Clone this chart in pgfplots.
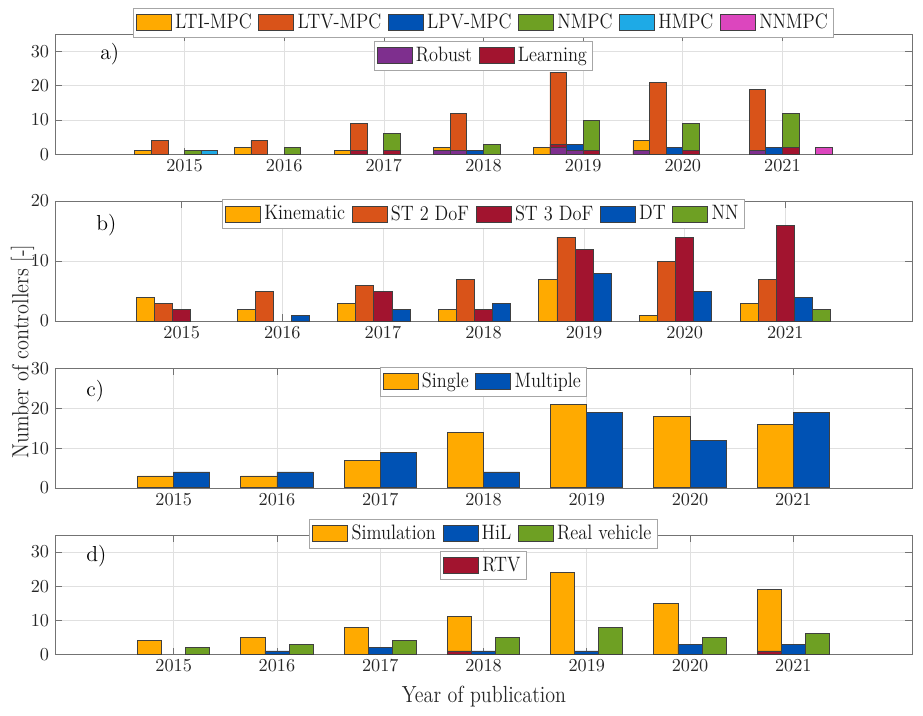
\documentclass[border=0pt]{standalone}
\usepackage{pgfplots}
\pgfplotsset{compat=1.18}
\definecolor{cYel}{RGB}{255,170,0}
\definecolor{cOra}{RGB}{217,83,25}
\definecolor{cBlu}{RGB}{0,82,180}
\definecolor{cGre}{RGB}{110,160,35}
\definecolor{cCya}{RGB}{30,170,230}
\definecolor{cMag}{RGB}{220,70,190}
\definecolor{cPur}{RGB}{126,47,142}
\definecolor{cRed}{RGB}{162,20,47}
\newcommand{\lgt}[1]{\scalebox{0.88}[1]{#1}}
\pgfplotsset{
  panel/.style={
    scale only axis, width=514.2pt, anchor=north west,
    axis line style={black!55}, tick style={black!55, line width=0.4pt},
    major tick length=4pt, tick align=inside,
    xmajorgrids, ymajorgrids, grid style={black!12, line width=0.4pt},
    xtick={2015,2016,2017,2018,2019,2020,2021},
    ymin=0,
    ticklabel style={font=\fontsize{11.2}{12}\selectfont, text=black!85},
    x tick label style={/pgf/number format/1000 sep={}},
    legend style={font=\fontsize{12.5}{14}\selectfont, draw=black!35, line width=0.6pt, fill=white,
      inner sep=1.5pt, /tikz/every even column/.append style={column sep=2pt}, text=black!90},
    legend image code/.code={\draw[##1, line width=0.5pt] (0pt,-4.8pt) rectangle (21pt,4.8pt);},
    legend cell align=left,
  },
  overlay/.style={panel, hide axis, xmajorgrids=false, ymajorgrids=false},
  hb/.style 2 args={ybar, bar width=#1, bar shift=#2, draw=black!75, line width=0.5pt},
}
\begin{document}
\begin{tikzpicture}
\path[use as bounding box] (0,0) rectangle (553.8pt,-429pt);

% ---------- a) ----------
\begin{axis}[panel, at={(33pt,-20.58pt)}, height=72pt, xmin=2013.7, xmax=2022.3, ymax=35, ytick={0,10,20,30},
  legend columns=6, legend style={at={(0.5,1)}, anchor=south, yshift=-2pt}]
\addplot[hb={0.16667}{-0.41667}, fill=cYel] coordinates {(2015,1)(2016,2)(2017,1)(2018,2)(2019,2)(2020,4)};
\addlegendentry{\lgt{LTI-MPC}}
\addplot[hb={0.16667}{-0.25}, fill=cOra] coordinates {(2015,4)(2016,4)(2017,9)(2018,12)(2019,24)(2020,21)(2021,19)};
\addlegendentry{\lgt{LTV-MPC}}
\addplot[hb={0.16667}{-0.08333}, fill=cBlu] coordinates {(2018,1)(2019,3)(2020,2)(2021,2)};
\addlegendentry{\lgt{LPV-MPC}}
\addplot[hb={0.16667}{0.08333}, fill=cGre] coordinates {(2015,1)(2016,2)(2017,6)(2018,3)(2019,10)(2020,9)(2021,12)};
\addlegendentry{\lgt{NMPC}}
\addplot[hb={0.16667}{0.25}, fill=cCya] coordinates {(2015,1)};
\addlegendentry{\lgt{HMPC}}
\addplot[hb={0.16667}{0.41667}, fill=cMag] coordinates {(2021,2)};
\addlegendentry{\lgt{NNMPC}}
\node[anchor=west, inner sep=0pt, font=\fontsize{13}{14}\selectfont] at (rel axis cs:0.0525,0.833) {a)};
\end{axis}
\begin{axis}[overlay, at={(33pt,-20.58pt)}, height=72pt, xmin=2013.7, xmax=2022.3, ymax=35,
  legend columns=2, legend style={at={(0.5,1)}, anchor=north, yshift=-4pt}]
\addlegendimage{fill=cPur, draw=black!75}\addlegendentry{\lgt{Robust}}
\addlegendimage{fill=cRed, draw=black!75}\addlegendentry{\lgt{Learning}}
\addplot[hb={0.16667}{-0.25}, fill=cRed, forget plot] coordinates {(2017,1)(2019,3)};
\addplot[hb={0.16667}{0.08333}, fill=cRed, forget plot] coordinates {(2017,1)(2019,1)(2020,1)(2021,2)};
\addplot[hb={0.16667}{-0.41667}, fill=cPur, forget plot] coordinates {(2018,1)(2020,1)};
\addplot[hb={0.16667}{-0.25}, fill=cPur, forget plot] coordinates {(2018,1)(2019,2)(2021,1)};
\addplot[hb={0.16667}{-0.08333}, fill=cPur, forget plot] coordinates {(2019,1)};
\end{axis}

% ---------- b) ----------
\begin{axis}[panel, at={(33pt,-120.6pt)}, height=72pt, xmin=2013.74, xmax=2022.26, ymax=20, ytick={0,10,20},
  legend columns=5, legend style={at={(0.5,1)}, anchor=north, yshift=1.2pt}]
\addplot[hb={0.18}{-0.36}, fill=cYel] coordinates {(2015,4)(2016,2)(2017,3)(2018,2)(2019,7)(2020,1)(2021,3)};
\addlegendentry{\lgt{Kinematic}}
\addplot[hb={0.18}{-0.18}, fill=cOra] coordinates {(2015,3)(2016,5)(2017,6)(2018,7)(2019,14)(2020,10)(2021,7)};
\addlegendentry{\lgt{ST 2 DoF}}
\addplot[hb={0.18}{0}, fill=cRed] coordinates {(2015,2)(2017,5)(2018,2)(2019,12)(2020,14)(2021,16)};
\addlegendentry{\lgt{ST 3 DoF}}
\addplot[hb={0.18}{0.18}, fill=cBlu] coordinates {(2016,1)(2017,2)(2018,3)(2019,8)(2020,5)(2021,4)};
\addlegendentry{\lgt{DT}}
\addplot[hb={0.18}{0.36}, fill=cGre] coordinates {(2021,2)};
\addlegendentry{\lgt{NN}}
\node[anchor=west, inner sep=0pt, font=\fontsize{13}{14}\selectfont] at (rel axis cs:0.0478,0.8) {b)};
\end{axis}

% ---------- c) ----------
\begin{axis}[panel, at={(33pt,-221.2pt)}, height=71.5pt, xmin=2013.85, xmax=2022.15, ymax=30, ytick={0,10,20,30},
  legend columns=2, legend style={at={(0.5,1)}, anchor=north, yshift=1.2pt}]
\addplot[hb={0.35}{-0.175}, fill=cYel] coordinates {(2015,3)(2016,3)(2017,7)(2018,14)(2019,21)(2020,18)(2021,16)};
\addlegendentry{\lgt{Single}}
\addplot[hb={0.35}{0.175}, fill=cBlu] coordinates {(2015,4)(2016,4)(2017,9)(2018,4)(2019,19)(2020,12)(2021,19)};
\addlegendentry{\lgt{Multiple}}
\node[anchor=west, inner sep=0pt, font=\fontsize{13}{14}\selectfont] at (rel axis cs:0.0362,0.815) {c)};
\end{axis}

% ---------- d) ----------
\begin{axis}[panel, at={(33pt,-321pt)}, height=71.6pt, xmin=2013.85, xmax=2022.15, ymax=35, ytick={0,10,20,30},
  legend columns=3, legend style={at={(0.5,1)}, anchor=center, yshift=0.8pt}]
\addplot[hb={0.2333}{-0.2333}, fill=cYel] coordinates {(2015,4)(2016,5)(2017,8)(2018,11)(2019,24)(2020,15)(2021,19)};
\addlegendentry{\lgt{Simulation}}
\addplot[hb={0.2333}{0}, fill=cBlu] coordinates {(2016,1)(2017,2)(2018,1)(2019,1)(2020,3)(2021,3)};
\addlegendentry{\lgt{HiL}}
\addplot[hb={0.2333}{0.2333}, fill=cGre] coordinates {(2015,2)(2016,3)(2017,4)(2018,5)(2019,8)(2020,5)(2021,6)};
\addlegendentry{\lgt{Real vehicle}}
\node[anchor=west, inner sep=0pt, font=\fontsize{13}{14}\selectfont] at (rel axis cs:0.0362,0.825) {d)};
\end{axis}
\begin{axis}[overlay, at={(33pt,-321pt)}, height=71.6pt, xmin=2013.85, xmax=2022.15, ymax=35,
  legend columns=1, legend style={at={(0.5,1)}, anchor=north, yshift=-9.6pt}]
\addlegendimage{fill=cRed, draw=black!75}\addlegendentry{\lgt{RTV}}
\addplot[hb={0.2333}{-0.2333}, fill=cRed, forget plot] coordinates {(2018,1)(2021,1)};
\end{axis}

\node[rotate=90, font=\fontsize{14}{16}\selectfont, text=black!85] at (13.5pt,-211pt) {\scalebox{0.87}[1]{Number of controllers [-]}};
\node[font=\fontsize{14}{16}\selectfont, text=black!85] at (290.4pt,-418.2pt) {\scalebox{0.86}[1]{Year of publication}};
\end{tikzpicture}
\end{document}
